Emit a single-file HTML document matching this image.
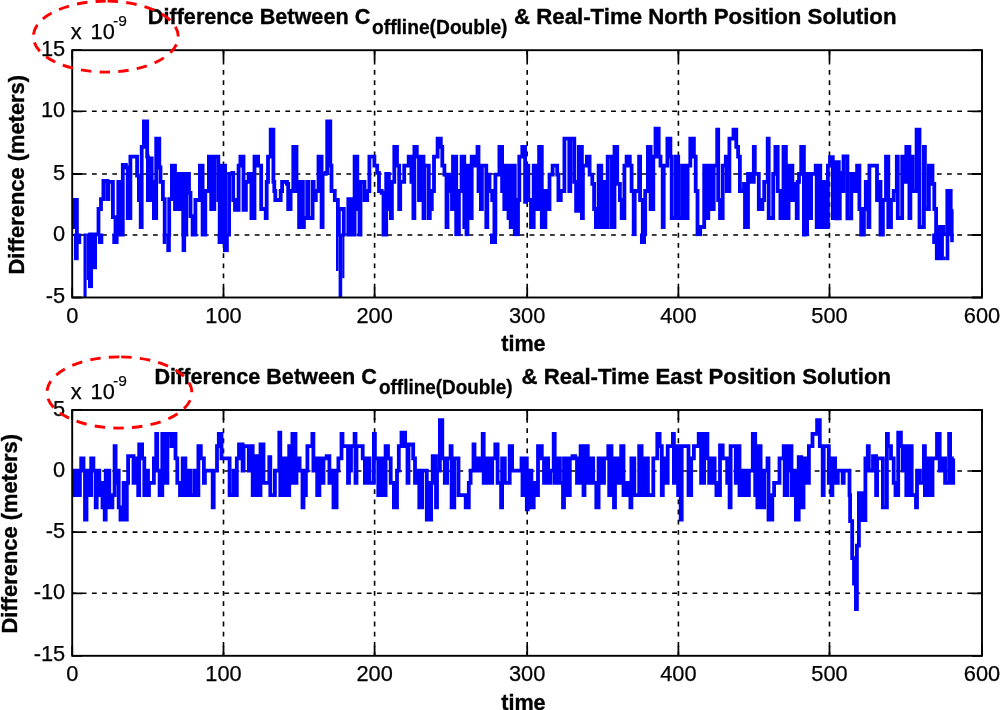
<!DOCTYPE html>
<html><head><meta charset="utf-8"><title>Difference plots</title>
<style>
html,body{margin:0;padding:0;background:#fff;}
svg{display:block;}
.tk{font-family:"Liberation Sans",Arial,sans-serif;font-size:21.8px;fill:#000;stroke:#000;stroke-width:0.25px;}
.ex{font-family:"Liberation Sans",Arial,sans-serif;font-size:15.5px;fill:#000;stroke:#000;stroke-width:0.2px;}
.lb{font-family:"Liberation Sans",Arial,sans-serif;font-size:21.6px;font-weight:bold;fill:#000;stroke:#000;stroke-width:0.35px;}
.tt{font-family:"Liberation Sans",Arial,sans-serif;font-size:21.6px;font-weight:bold;fill:#000;stroke:#000;stroke-width:0.35px;}
.ts{font-family:"Liberation Sans",Arial,sans-serif;font-size:20px;font-weight:bold;fill:#000;stroke:#000;stroke-width:0.3px;}
</style></head>
<body>
<svg width="1000" height="710" viewBox="0 0 1000 710">
<rect width="1000" height="710" fill="#fff"/>
<clipPath id="c1"><rect x="72.2" y="50.2" width="909.8" height="247.3"/></clipPath>
<g stroke="#000" stroke-width="1.6" stroke-dasharray="4.8 5.38" fill="none"><line x1="72.2" y1="111.3" x2="982.0" y2="111.3" stroke-dashoffset="0.65"/><line x1="72.2" y1="174.0" x2="982.0" y2="174.0" stroke-dashoffset="0.65"/><line x1="72.2" y1="235.0" x2="982.0" y2="235.0" stroke-dashoffset="0.65"/><line x1="223.5" y1="50.2" x2="223.5" y2="297.5" stroke-dashoffset="0.60"/><line x1="374.6" y1="50.2" x2="374.6" y2="297.5" stroke-dashoffset="0.60"/><line x1="527.2" y1="50.2" x2="527.2" y2="297.5" stroke-dashoffset="0.60"/><line x1="678.4" y1="50.2" x2="678.4" y2="297.5" stroke-dashoffset="0.60"/><line x1="829.5" y1="50.2" x2="829.5" y2="297.5" stroke-dashoffset="0.60"/></g>
<path d="M72.2,50.2h10.0M982.0,50.2h-10.0M72.2,111.3h10.0M982.0,111.3h-10.0M72.2,174.0h10.0M982.0,174.0h-10.0M72.2,235.0h10.0M982.0,235.0h-10.0M72.2,297.5h10.0M982.0,297.5h-10.0M72.2,297.5v-10.0M72.2,50.2v10.0M223.5,297.5v-10.0M223.5,50.2v10.0M374.6,297.5v-10.0M374.6,50.2v10.0M527.2,297.5v-10.0M527.2,50.2v10.0M678.4,297.5v-10.0M678.4,50.2v10.0M829.5,297.5v-10.0M829.5,50.2v10.0M982.0,297.5v-10.0M982.0,50.2v10.0" stroke="#000" stroke-width="1.8" fill="none"/>
<clipPath id="c1a"><rect x="72.2" y="50" width="910" height="186.5"/></clipPath><polyline clip-path="url(#c1a)" points="72.2,227.0 74.0,227.0 74.0,200.0 76.9,200.0 76.9,252.3 90.2,252.3 90.2,234.3 98.5,234.3 98.5,209.0 101.0,209.0 101.0,199.1 103.4,199.1 103.4,181.0 107.4,181.0 107.4,199.1 108.4,199.1 108.4,181.9 112.9,181.9 112.9,217.1 115.5,217.1 115.5,236.1 118.3,236.1 118.3,181.9 121.8,181.9 121.8,236.1 122.8,236.1 122.8,164.8 125.9,164.8 125.9,167.5 127.7,167.5 127.7,218.0 130.4,218.0 130.4,156.7 135.8,156.7 137.1,156.7 137.1,175.6 138.9,175.6 138.9,200.0 140.7,200.0 140.7,227.0 141.7,227.0 141.7,146.8 143.9,146.8 143.9,121.5 147.2,121.5 147.2,156.7 147.9,156.7 147.9,200.0 150.7,200.0 150.7,158.5 151.7,158.5 151.7,181.9 153.9,181.9 153.9,218.0 156.2,218.0 156.2,138.7 159.3,138.7 159.3,167.5 160.5,167.5 160.5,181.9 162.9,181.9 162.9,199.1 164.7,199.1 164.7,252.3 169.2,252.3 169.2,199.1 171.9,199.1 171.9,165.7 175.0,165.7 175.0,209.0 178.1,209.0 178.1,173.8 179.1,173.8 179.1,209.0 182.2,209.0 182.2,173.8 183.2,173.8 183.2,236.1 186.3,236.1 186.3,173.8 189.0,173.8 189.0,192.8 190.5,192.8 190.5,216.2 192.6,216.2 192.6,236.1 195.4,236.1 195.4,200.0 199.9,200.0 199.9,165.7 202.6,165.7 202.6,236.1 205.3,236.1 205.3,191.0 208.9,191.0 208.9,156.7 211.2,156.7 211.2,209.0 214.3,209.0 214.3,156.7 218.3,156.7 218.3,200.0 219.7,200.0 219.7,252.3 222.0,252.3 222.0,165.7 225.1,165.7 225.1,252.3 229.1,252.3 229.1,173.8 232.3,173.8 232.3,172.9 233.2,172.9 233.2,200.0 235.0,200.0 235.0,209.9 238.6,209.9 238.6,165.7 240.4,165.7 240.4,156.7 243.5,156.7 243.5,209.9 245.9,209.9 245.9,181.9 248.6,181.9 248.6,173.8 250.0,173.8 251.4,173.8 251.4,218.0 254.5,218.0 254.5,156.7 258.1,156.7 258.1,165.7 261.2,165.7 261.2,209.0 265.7,209.0 265.7,218.0 266.7,218.0 266.7,181.9 268.0,181.9 268.0,156.7 270.7,156.7 270.7,129.6 273.4,129.6 273.4,181.9 274.3,181.9 274.3,191.0 275.3,191.0 275.3,200.0 280.7,200.0 280.7,191.0 282.1,191.0 282.1,181.9 287.0,181.9 287.0,183.8 288.2,183.8 288.2,209.0 290.6,209.0 290.6,191.0 293.3,191.0 293.3,146.8 296.5,146.8 296.5,191.0 299.1,191.0 299.1,227.0 300.1,227.0 300.1,181.9 302.9,181.9 302.9,227.0 303.9,227.0 303.9,218.0 307.2,218.0 307.2,181.9 308.2,181.9 308.2,218.0 312.6,218.0 312.6,181.9 313.6,181.9 313.6,200.0 315.8,200.0 315.8,191.0 318.5,191.0 318.5,156.7 321.6,156.7 321.6,227.0 322.6,227.0 322.6,173.8 325.8,173.8 325.8,172.9 327.2,172.9 327.2,121.5 330.3,121.5 330.3,165.7 331.5,165.7 331.5,191.0 334.8,191.0 334.8,200.0 337.9,200.0 337.9,252.3 338.9,252.3 338.9,209.0 343.8,209.0 343.8,252.3 348.3,252.3 348.3,199.1 351.0,199.1 351.0,252.3 354.6,252.3 354.6,156.7 357.3,156.7 357.3,209.0 359.5,209.0 359.5,252.3 360.5,252.3 360.5,181.9 364.5,181.9 364.5,200.0 367.2,200.0 367.2,191.0 369.4,191.0 369.4,156.7 374.4,156.7 374.4,165.7 377.2,165.7 377.2,172.9 379.0,172.9 379.0,191.0 381.7,191.0 381.7,192.8 383.5,192.8 383.5,252.3 386.2,252.3 386.2,173.8 388.9,173.8 388.9,209.0 390.9,209.0 390.9,218.0 391.9,218.0 391.9,181.9 394.3,181.9 394.3,146.8 397.0,146.8 397.0,165.7 399.2,165.7 399.2,209.0 400.2,209.0 400.2,181.9 404.2,181.9 404.2,165.7 408.7,165.7 408.7,156.7 411.4,156.7 411.4,181.9 413.4,181.9 413.4,218.0 414.4,218.0 414.4,146.8 416.8,146.8 416.8,156.7 419.0,156.7 419.0,200.0 420.0,200.0 420.0,156.7 423.5,156.7 423.5,218.0 424.5,218.0 424.5,165.7 428.8,165.7 428.8,218.0 429.8,218.0 429.8,209.0 431.8,209.0 431.8,191.0 434.0,191.0 434.0,156.7 437.6,156.7 437.6,138.7 440.8,138.7 440.8,146.8 442.3,146.8 442.3,165.7 444.4,165.7 444.4,174.7 446.5,174.7 446.5,227.0 447.5,227.0 447.5,174.7 449.8,174.7 449.8,191.0 452.0,191.0 452.0,209.0 453.0,209.0 453.0,156.7 456.2,156.7 456.2,234.3 458.9,234.3 458.9,191.0 461.6,191.0 461.6,156.7 464.3,156.7 464.3,227.0 466.5,227.0 466.5,234.3 467.5,234.3 467.5,165.7 470.7,165.7 470.7,218.0 471.7,218.0 471.7,156.7 474.2,156.7 474.2,165.7 477.5,165.7 477.5,146.8 478.5,146.8 478.5,191.0 480.9,191.0 480.9,209.0 481.9,209.0 481.9,165.7 486.3,165.7 486.3,227.0 487.3,227.0 487.3,174.7 489.5,174.7 489.5,191.0 492.2,191.0 492.2,200.0 494.4,200.0 494.4,234.3 495.4,234.3 495.4,174.7 499.4,174.7 499.4,146.8 502.1,146.8 502.1,191.0 504.3,191.0 504.3,209.0 505.3,209.0 505.3,165.7 508.5,165.7 508.5,218.0 510.7,218.0 510.7,227.0 511.7,227.0 511.7,165.7 514.8,165.7 514.8,234.3 518.0,234.3 518.0,200.0 519.3,200.0 519.3,156.7 522.3,156.7 522.3,146.8 525.1,146.8 525.1,201.8 526.1,201.8 526.1,165.7 528.3,165.7 528.3,200.0 531.0,200.0 531.0,227.0 533.7,227.0 533.7,165.7 536.4,165.7 536.4,209.0 539.1,209.0 539.1,146.8 541.8,146.8 541.8,227.0 545.4,227.0 545.4,191.0 548.5,191.0 548.5,209.0 549.5,209.0 549.5,174.7 552.6,174.7 552.6,165.7 557.2,165.7 557.2,174.7 558.4,174.7 558.4,200.0 560.8,200.0 560.8,191.0 564.4,191.0 564.4,138.7 569.3,138.7 569.3,191.0 570.3,191.0 570.3,138.7 574.3,138.7 574.3,181.9 576.1,181.9 576.1,210.8 578.8,210.8 578.8,146.8 581.9,146.8 581.9,218.0 582.9,218.0 582.9,165.7 586.9,165.7 586.9,156.7 589.6,156.7 589.6,174.7 592.3,174.7 592.3,183.8 594.1,183.8 594.1,209.0 595.9,209.0 595.9,227.0 598.6,227.0 598.6,165.7 601.3,165.7 601.3,227.0 604.4,227.0 604.4,181.9 605.4,181.9 605.4,227.0 607.7,227.0 607.7,156.7 610.0,156.7 611.8,156.7 611.8,227.0 614.5,227.0 614.5,146.8 617.2,146.8 617.2,183.8 619.9,183.8 619.9,200.0 621.7,200.0 621.7,218.0 624.4,218.0 624.4,165.7 626.6,165.7 626.6,156.7 629.8,156.7 629.8,165.7 631.6,165.7 631.6,191.0 633.7,191.0 633.7,234.3 634.7,234.3 634.7,191.0 639.1,191.0 639.1,156.7 640.1,156.7 640.1,200.0 642.8,200.0 642.8,234.3 645.2,234.3 645.2,191.0 647.9,191.0 647.9,146.8 650.6,146.8 650.6,209.0 653.3,209.0 653.3,156.7 655.5,156.7 655.5,128.7 658.7,128.7 658.7,156.7 660.5,156.7 660.5,165.7 662.7,165.7 662.7,227.0 663.7,227.0 663.7,165.7 667.4,165.7 667.4,138.7 670.4,138.7 670.4,156.7 671.7,156.7 671.7,218.0 675.8,218.0 675.8,156.7 678.2,156.7 678.2,218.0 682.1,218.0 682.1,165.7 684.8,165.7 684.8,218.0 687.6,218.0 687.6,165.7 690.3,165.7 690.3,138.7 693.9,138.7 693.9,156.7 695.7,156.7 695.7,191.0 697.5,191.0 697.5,234.3 700.2,234.3 700.2,227.0 704.2,227.0 704.2,165.7 705.2,165.7 705.2,218.0 708.3,218.0 708.3,165.7 711.0,165.7 711.0,209.0 713.7,209.0 713.7,165.7 717.2,165.7 717.2,129.6 718.2,129.6 718.2,200.0 720.0,200.0 720.0,218.0 722.7,218.0 722.7,165.7 725.8,165.7 725.8,156.7 726.8,156.7 726.8,191.0 729.4,191.0 729.4,138.7 733.5,138.7 733.5,129.6 736.3,129.6 736.3,146.8 738.1,146.8 738.1,156.7 739.9,156.7 739.9,191.0 744.0,191.0 744.0,183.8 745.0,183.8 745.0,227.0 748.0,227.0 748.0,173.8 750.7,173.8 750.7,181.9 753.8,181.9 753.8,146.8 754.8,146.8 754.8,173.8 758.8,173.8 758.8,209.0 762.4,209.0 762.4,200.0 764.2,200.0 764.2,181.9 767.7,181.9 767.7,138.7 768.7,138.7 768.7,218.0 773.2,218.0 773.2,173.8 775.4,173.8 775.4,146.8 777.7,146.8 777.7,191.0 780.4,191.0 780.4,218.0 783.5,218.0 783.5,146.8 785.9,146.8 785.9,218.0 788.6,218.0 788.6,165.7 790.0,165.7 792.4,165.7 792.4,200.0 793.4,200.0 793.4,183.8 796.7,183.8 796.7,218.0 797.7,218.0 797.7,181.9 799.0,181.9 799.0,173.8 801.2,173.8 801.2,146.8 803.9,146.8 803.9,252.3 805.1,252.3 805.1,191.0 806.1,191.0 806.1,234.3 807.1,234.3 807.1,173.8 810.1,173.8 810.1,218.0 811.1,218.0 811.1,173.8 815.7,173.8 815.7,165.7 816.7,165.7 816.7,227.0 819.1,227.0 819.1,165.7 820.3,165.7 820.3,209.0 821.8,209.0 821.8,181.9 822.8,181.9 822.8,227.0 825.6,227.0 825.6,181.9 826.9,181.9 826.9,227.0 827.9,227.0 827.9,165.7 830.0,165.7 830.0,157.1 832.8,157.1 832.8,218.0 833.8,218.0 833.8,162.1 836.1,162.1 836.1,218.4 837.4,218.4 837.4,162.1 838.8,162.1 838.8,218.4 839.8,218.4 839.8,172.9 842.5,172.9 842.5,191.0 843.5,191.0 843.5,156.3 847.4,156.3 847.4,218.4 851.3,218.4 851.3,173.8 854.0,173.8 854.0,191.0 857.1,191.0 857.1,165.7 859.4,165.7 859.4,209.0 861.2,209.0 861.2,252.3 863.9,252.3 863.9,209.0 865.8,209.0 865.8,181.9 868.4,181.9 868.4,227.0 869.4,227.0 869.4,165.7 873.9,165.7 877.0,165.7 877.0,200.0 878.0,200.0 878.0,181.9 880.5,181.9 880.5,252.3 882.9,252.3 882.9,200.0 886.0,200.0 886.0,156.7 888.3,156.7 888.3,227.0 891.0,227.0 891.0,200.0 893.7,200.0 893.7,191.0 896.8,191.0 896.8,156.7 897.8,156.7 897.8,218.0 902.2,218.0 902.2,156.7 903.2,156.7 903.2,181.9 906.3,181.9 906.3,146.8 909.4,146.8 909.4,218.0 910.4,218.0 910.4,156.7 912.6,156.7 912.6,191.0 916.6,191.0 916.6,129.6 919.5,129.6 919.5,227.0 923.9,227.0 923.9,146.8 924.9,146.8 924.9,209.0 928.9,209.0 928.9,165.7 932.5,165.7 932.5,183.8 934.3,183.8 934.3,209.0 936.1,209.0 936.1,252.3 939.7,252.3 939.7,227.0 943.3,227.0 943.3,234.3 947.3,234.3 947.3,191.0 950.7,191.0 950.7,234.3 951.7,234.3 951.7,210.8 953.4,210.8" fill="none" stroke="#0000ff" stroke-width="3.8" stroke-linejoin="miter" stroke-miterlimit="3"/><g fill="#0000ff" clip-path="url(#c1)"><rect x="74.0" y="233.5" width="4.7" height="26.7"/><rect x="78.1" y="233.5" width="3.1" height="10.5"/><rect x="83.5" y="233.5" width="3.1" height="64.5"/><rect x="86.6" y="233.5" width="2.3" height="46.5"/><rect x="88.0" y="233.5" width="5.0" height="54.6"/><rect x="93.0" y="233.5" width="4.0" height="35.7"/><rect x="97.9" y="233.5" width="5.4" height="10.5"/><rect x="112.3" y="233.5" width="6.3" height="10.5"/><rect x="162.7" y="233.5" width="3.6" height="10.5"/><rect x="166.3" y="233.5" width="4.5" height="18.6"/><rect x="181.6" y="233.5" width="4.5" height="18.6"/><rect x="217.6" y="233.5" width="5.4" height="10.5"/><rect x="223.0" y="233.5" width="5.8" height="18.6"/><rect x="336.0" y="233.5" width="2.5" height="37.5"/><rect x="338.6" y="233.5" width="3.6" height="64.5"/><rect x="342.2" y="233.5" width="2.2" height="44.7"/><rect x="343.6" y="233.5" width="10.8" height="1.5"/><rect x="357.1" y="233.5" width="3.6" height="1.9"/><rect x="382.3" y="233.5" width="2.7" height="1.9"/><rect x="932.2" y="233.5" width="3.6" height="10.5"/><rect x="934.9" y="233.5" width="9.0" height="26.7"/><rect x="945.7" y="233.5" width="3.6" height="26.7"/><rect x="943.9" y="256.6" width="1.8" height="3.6"/><rect x="950.2" y="233.5" width="3.6" height="8.7"/><rect x="490.0" y="233.5" width="7.0" height="10.5"/><rect x="640.0" y="233.5" width="6.0" height="10.5"/></g>
<rect x="72.2" y="50.2" width="909.8" height="247.3" fill="none" stroke="#000" stroke-width="1.9"/>
<text x="65.2" y="55.8" text-anchor="end" class="tk">15</text>
<text x="65.2" y="116.9" text-anchor="end" class="tk">10</text>
<text x="65.2" y="179.6" text-anchor="end" class="tk">5</text>
<text x="65.2" y="240.6" text-anchor="end" class="tk">0</text>
<text x="65.2" y="303.1" text-anchor="end" class="tk">-5</text>
<text x="72.2" y="322.7" text-anchor="middle" class="tk">0</text>
<text x="223.5" y="322.7" text-anchor="middle" class="tk">100</text>
<text x="374.6" y="322.7" text-anchor="middle" class="tk">200</text>
<text x="527.2" y="322.7" text-anchor="middle" class="tk">300</text>
<text x="678.4" y="322.7" text-anchor="middle" class="tk">400</text>
<text x="829.5" y="322.7" text-anchor="middle" class="tk">500</text>
<text x="982.0" y="322.7" text-anchor="middle" class="tk">600</text>
<text x="523.4" y="351.2" text-anchor="middle" class="lb">time</text>
<text transform="translate(23.6,174.7) rotate(-90)" text-anchor="middle" class="lb" textLength="199.5" lengthAdjust="spacingAndGlyphs">Difference (meters)</text>
<clipPath id="c2"><rect x="72.2" y="410.0" width="909.8" height="245.79999999999995"/></clipPath>
<g stroke="#000" stroke-width="1.6" stroke-dasharray="4.8 5.38" fill="none"><line x1="72.2" y1="471.0" x2="982.0" y2="471.0" stroke-dashoffset="0.65"/><line x1="72.2" y1="532.1" x2="982.0" y2="532.1" stroke-dashoffset="0.65"/><line x1="72.2" y1="593.3" x2="982.0" y2="593.3" stroke-dashoffset="0.65"/><line x1="223.5" y1="410.0" x2="223.5" y2="655.8" stroke-dashoffset="2.20"/><line x1="374.6" y1="410.0" x2="374.6" y2="655.8" stroke-dashoffset="2.20"/><line x1="527.2" y1="410.0" x2="527.2" y2="655.8" stroke-dashoffset="2.20"/><line x1="678.4" y1="410.0" x2="678.4" y2="655.8" stroke-dashoffset="2.20"/><line x1="829.5" y1="410.0" x2="829.5" y2="655.8" stroke-dashoffset="2.20"/></g>
<path d="M72.2,410.0h10.0M982.0,410.0h-10.0M72.2,471.0h10.0M982.0,471.0h-10.0M72.2,532.1h10.0M982.0,532.1h-10.0M72.2,593.3h10.0M982.0,593.3h-10.0M72.2,655.8h10.0M982.0,655.8h-10.0M72.2,655.8v-10.0M72.2,410.0v10.0M223.5,655.8v-10.0M223.5,410.0v10.0M374.6,655.8v-10.0M374.6,410.0v10.0M527.2,655.8v-10.0M527.2,410.0v10.0M678.4,655.8v-10.0M678.4,410.0v10.0M829.5,655.8v-10.0M829.5,410.0v10.0M982.0,655.8v-10.0M982.0,410.0v10.0" stroke="#000" stroke-width="1.8" fill="none"/>
<polyline clip-path="url(#c2)" points="71.8,470.6 72.2,470.6 72.2,495.1 74.5,495.1 74.5,470.6 77.2,470.6 77.2,495.1 79.9,495.1 79.9,470.6 81.2,470.6 81.2,458.4 83.5,458.4 83.5,470.6 85.0,470.6 85.0,519.7 86.5,519.7 86.5,470.6 87.5,470.6 87.5,482.9 90.2,482.9 90.2,495.1 91.2,495.1 91.2,458.4 93.4,458.4 93.4,470.6 95.7,470.6 95.7,507.4 96.7,507.4 96.7,470.6 99.3,470.6 99.3,495.1 100.3,495.1 100.3,482.9 102.5,482.9 102.5,507.4 104.7,507.4 104.7,519.7 105.7,519.7 105.7,470.6 107.9,470.6 109.3,470.6 109.3,507.4 112.4,507.4 112.4,495.1 114.6,495.1 114.6,446.1 115.6,446.1 115.6,482.9 117.7,482.9 117.7,470.6 118.7,470.6 118.7,507.4 120.5,507.4 120.5,519.7 123.6,519.7 123.6,482.9 124.6,482.9 124.6,519.7 126.8,519.7 126.8,482.9 128.1,482.9 128.1,456.2 131.3,456.2 133.5,456.2 133.5,482.9 134.5,482.9 134.5,458.4 138.2,458.4 138.2,495.1 139.2,495.1 139.2,444.5 142.1,444.5 142.1,458.4 144.3,458.4 144.3,495.1 145.3,495.1 145.3,470.6 148.0,470.6 148.0,495.1 149.0,495.1 149.0,482.9 152.1,482.9 153.9,482.9 153.9,458.4 156.2,458.4 156.2,433.8 157.2,433.8 157.2,470.6 159.6,470.6 159.6,495.1 162.3,495.1 162.3,433.8 164.7,433.8 164.7,482.9 167.4,482.9 167.4,433.8 171.4,433.8 171.4,446.1 172.4,446.1 172.4,433.8 175.5,433.8 175.5,458.4 177.3,458.4 177.3,482.9 180.0,482.9 180.0,495.1 182.7,495.1 182.7,458.4 185.4,458.4 185.4,495.1 188.1,495.1 188.1,470.6 190.8,470.6 190.8,495.1 194.9,495.1 194.9,470.6 195.9,470.6 195.9,495.1 198.4,495.1 198.4,446.1 200.8,446.1 200.8,458.4 203.9,458.4 203.9,482.9 204.9,482.9 204.9,470.6 209.8,470.6 212.7,470.6 212.7,507.4 213.7,507.4 213.7,470.6 217.0,470.6 217.0,446.1 218.8,446.1 218.8,433.8 221.5,433.8 221.5,458.4 226.9,458.4 229.6,458.4 229.6,495.1 233.6,495.1 233.6,470.6 234.6,470.6 234.6,495.1 236.8,495.1 236.8,458.4 239.0,458.4 239.0,444.5 242.6,444.5 242.6,470.6 243.6,470.6 243.6,446.1 248.8,446.1 248.8,470.6 249.8,470.6 249.8,446.1 251.4,446.1 252.7,446.1 252.7,495.1 255.4,495.1 255.4,456.2 258.1,456.2 258.1,495.1 260.5,495.1 260.5,444.5 263.5,444.5 263.5,482.9 265.3,482.9 269.3,482.9 269.3,457.1 270.3,457.1 270.3,495.1 274.9,495.1 274.9,470.6 279.3,470.6 279.3,432.7 280.3,432.7 280.3,495.1 283.4,495.1 283.4,458.4 286.1,458.4 286.1,495.1 289.2,495.1 289.2,446.1 290.2,446.1 290.2,482.9 292.4,482.9 292.4,433.8 295.5,433.8 295.5,482.9 296.5,482.9 296.5,458.4 299.6,458.4 299.6,470.6 302.5,470.6 302.5,507.4 303.5,507.4 303.5,495.1 305.9,495.1 305.9,470.6 307.4,470.6 307.4,446.1 312.4,446.1 312.4,433.8 313.4,433.8 313.4,470.6 316.2,470.6 316.2,458.4 317.2,458.4 317.2,495.1 319.4,495.1 319.4,458.4 322.5,458.4 322.5,482.9 323.5,482.9 323.5,458.4 326.7,458.4 326.7,456.2 329.4,456.2 329.4,482.9 332.5,482.9 332.5,470.6 333.5,470.6 333.5,507.4 336.6,507.4 336.6,470.6 338.4,470.6 338.4,458.4 341.5,458.4 341.5,433.8 342.5,433.8 342.5,446.1 345.6,446.1 348.0,446.1 348.0,482.9 349.0,482.9 349.0,470.6 351.0,470.6 351.0,446.1 354.6,446.1 354.6,433.8 355.5,433.8 355.5,482.9 356.5,482.9 356.5,446.1 360.0,446.1 362.7,446.1 362.7,458.4 364.9,458.4 364.9,482.9 365.9,482.9 365.9,470.6 368.5,470.6 368.5,458.4 369.5,458.4 369.5,482.9 373.9,482.9 373.9,433.8 374.9,433.8 374.9,458.4 378.3,458.4 378.3,495.1 379.3,495.1 379.3,458.4 382.6,458.4 382.6,495.1 385.6,495.1 385.6,446.1 388.0,446.1 388.0,458.4 390.7,458.4 390.7,482.9 393.9,482.9 393.9,507.4 397.0,507.4 397.0,470.6 398.8,470.6 398.8,446.1 401.5,446.1 401.5,432.7 405.1,432.7 405.1,446.1 407.5,446.1 407.5,482.9 408.5,482.9 408.5,444.5 413.2,444.5 413.2,458.4 415.0,458.4 415.0,482.9 418.3,482.9 418.3,470.6 419.3,470.6 419.3,507.4 422.2,507.4 422.2,470.6 424.0,470.6 426.8,470.6 426.8,519.7 429.2,519.7 429.2,482.9 430.1,482.9 430.1,519.7 431.1,519.7 431.1,482.9 432.7,482.9 432.7,456.2 436.0,456.2 436.0,507.4 437.0,507.4 437.0,470.6 439.9,470.6 439.9,420.1 442.3,420.1 442.3,458.4 444.8,458.4 444.8,482.9 447.1,482.9 447.1,458.4 450.6,458.4 450.6,446.1 451.6,446.1 451.6,507.4 454.3,507.4 454.3,458.4 457.1,458.4 458.5,458.4 458.5,495.1 462.5,495.1 465.7,495.1 465.7,507.4 468.8,507.4 468.8,482.9 470.6,482.9 470.6,470.6 473.5,470.6 473.5,444.5 474.5,444.5 474.5,470.6 478.2,470.6 478.2,458.4 479.2,458.4 479.2,470.6 482.7,470.6 482.7,433.8 483.7,433.8 483.7,482.9 486.8,482.9 486.8,458.4 489.5,458.4 489.5,482.9 492.2,482.9 492.2,458.4 495.3,458.4 495.3,444.5 497.6,444.5 497.6,482.9 501.1,482.9 501.1,507.4 502.1,507.4 502.1,458.4 504.8,458.4 504.8,482.9 506.7,482.9 509.7,482.9 509.7,446.1 512.1,446.1 512.1,470.6 520.2,470.6 521.5,470.6 521.5,458.4 522.5,458.4 522.5,495.1 525.4,495.1 525.4,458.4 526.8,458.4 526.8,509.4 527.8,509.4 527.8,470.6 531.4,470.6 531.4,507.4 533.7,507.4 533.7,482.9 537.0,482.9 537.0,495.1 538.0,495.1 538.0,446.1 541.8,446.1 541.8,458.4 544.0,458.4 544.0,482.9 545.0,482.9 545.0,458.4 548.1,458.4 548.1,482.9 550.5,482.9 550.5,470.6 553.7,470.6 553.7,433.8 554.7,433.8 554.7,482.9 557.2,482.9 557.2,458.4 559.9,458.4 559.9,482.9 563.0,482.9 563.0,507.4 564.0,507.4 564.0,458.4 567.1,458.4 567.1,495.1 569.8,495.1 569.8,458.4 572.5,458.4 572.5,456.2 575.2,456.2 575.2,458.4 577.0,458.4 577.0,482.9 580.6,482.9 580.6,446.1 583.5,446.1 583.5,495.1 584.5,495.1 584.5,446.1 587.8,446.1 587.8,482.9 590.5,482.9 590.5,458.4 593.2,458.4 593.2,482.9 596.3,482.9 596.3,507.4 598.6,507.4 598.6,458.4 601.3,458.4 601.3,482.9 604.0,482.9 604.0,458.4 608.3,458.4 608.3,446.1 609.2,446.1 609.2,495.1 610.5,495.1 610.5,446.1 611.5,446.1 611.5,495.1 614.0,495.1 614.0,507.4 615.0,507.4 615.0,458.4 618.1,458.4 618.1,482.9 621.2,482.9 621.2,446.1 623.5,446.1 623.5,495.1 626.6,495.1 626.6,482.9 627.6,482.9 627.6,495.1 630.4,495.1 630.4,507.4 631.4,507.4 631.4,458.4 634.3,458.4 634.3,495.1 639.2,495.1 639.2,446.1 641.6,446.1 641.6,495.1 645.2,495.1 645.2,458.4 647.9,458.4 647.9,495.1 650.6,495.1 653.3,495.1 653.3,458.4 657.3,458.4 657.3,433.8 659.6,433.8 659.6,446.1 661.8,446.1 661.8,495.1 662.8,495.1 662.8,458.4 665.0,458.4 665.0,482.9 667.7,482.9 667.7,446.1 672.9,446.1 672.9,433.8 673.9,433.8 673.9,482.9 677.1,482.9 677.1,446.1 678.1,446.1 678.1,495.1 680.7,495.1 680.7,519.7 681.7,519.7 681.7,446.1 686.7,446.1 688.5,446.1 688.5,495.1 691.2,495.1 691.2,458.4 693.9,458.4 693.9,446.1 698.7,446.1 698.7,433.8 701.1,433.8 701.1,482.9 704.1,482.9 704.1,433.8 707.4,433.8 707.4,458.4 709.2,458.4 709.2,482.9 711.9,482.9 711.9,458.4 714.6,458.4 714.6,482.9 716.4,482.9 716.4,495.1 720.0,495.1 720.0,445.4 722.7,445.4 722.7,458.4 725.4,458.4 727.2,458.4 727.2,482.9 729.6,482.9 729.6,507.4 730.6,507.4 730.6,446.1 735.8,446.1 735.8,482.9 736.8,482.9 736.8,446.1 739.5,446.1 739.5,495.1 742.6,495.1 742.6,470.6 745.3,470.6 745.3,495.1 748.9,495.1 748.9,470.6 752.8,470.6 752.8,433.8 755.2,433.8 755.2,495.1 757.4,495.1 757.4,507.4 758.4,507.4 758.4,446.1 760.6,446.1 760.6,507.4 764.2,507.4 764.2,470.6 767.5,470.6 767.5,458.4 768.5,458.4 768.5,519.7 772.3,519.7 772.3,495.1 774.1,495.1 774.1,482.9 776.8,482.9 779.5,482.9 779.5,458.4 783.7,458.4 783.7,446.1 784.7,446.1 784.7,495.1 787.1,495.1 787.1,446.1 789.2,446.1 789.2,470.6 790.5,470.6 790.5,446.1 791.5,446.1 791.5,495.1 794.9,495.1 794.9,470.6 795.9,470.6 795.9,519.7 798.7,519.7 798.7,457.1 801.2,457.1 801.2,507.4 803.5,507.4 803.5,458.4 806.2,458.4 806.2,482.9 808.9,482.9 808.9,446.1 812.5,446.1 812.5,433.8 817.1,433.8 817.1,420.1 819.8,420.1 819.8,446.1 822.7,446.1 822.7,495.1 823.7,495.1 823.7,446.1 827.0,446.1 828.8,446.1 828.8,482.9 831.4,482.9 831.4,495.1 832.4,495.1 832.4,458.4 835.1,458.4 835.1,482.9 837.8,482.9 837.8,470.6 842.7,470.6 842.7,482.9 843.7,482.9 843.7,470.6 847.7,470.6 849.5,470.6 849.5,495.1 850.1,495.1 850.1,521.1 852.2,521.1 852.2,558.1 854.0,558.1 854.0,583.7 855.9,583.7 855.9,609.1 856.9,609.1 856.9,545.6 858.9,545.6 858.9,493.2 862.1,493.2 862.1,520.2 865.4,520.2 865.4,458.4 867.8,458.4 867.8,446.1 868.8,446.1 868.8,470.6 873.0,470.6 873.0,456.2 876.1,456.2 876.1,495.1 877.1,495.1 877.1,458.4 880.2,458.4 882.9,458.4 882.9,507.4 886.9,507.4 886.9,433.8 887.9,433.8 887.9,446.1 891.0,446.1 891.0,458.4 893.7,458.4 893.7,482.9 895.5,482.9 895.5,495.1 898.2,495.1 898.2,432.7 900.9,432.7 900.9,446.1 902.7,446.1 902.7,470.6 903.7,470.6 903.7,446.1 906.3,446.1 906.3,495.1 909.0,495.1 909.0,446.1 911.7,446.1 911.7,495.1 916.0,495.1 916.0,507.4 917.0,507.4 917.0,470.6 919.9,470.6 919.9,482.9 923.9,482.9 923.9,446.1 924.9,446.1 924.9,495.1 927.1,495.1 927.1,458.4 929.8,458.4 929.8,495.1 932.5,495.1 932.5,458.4 937.0,458.4 937.0,433.8 939.7,433.8 939.7,470.6 942.4,470.6 942.4,458.4 945.1,458.4 945.1,482.9 949.1,482.9 949.1,433.8 950.1,433.8 950.1,482.9 953.2,482.9 953.2,458.4 953.8,458.4" fill="none" stroke="#0000ff" stroke-width="3.8" stroke-linejoin="miter" stroke-miterlimit="3"/>
<rect x="72.2" y="410.0" width="909.8" height="245.79999999999995" fill="none" stroke="#000" stroke-width="1.9"/>
<text x="65.2" y="415.6" text-anchor="end" class="tk">5</text>
<text x="65.2" y="476.6" text-anchor="end" class="tk">0</text>
<text x="65.2" y="537.7" text-anchor="end" class="tk">-5</text>
<text x="65.2" y="598.9" text-anchor="end" class="tk">-10</text>
<text x="65.2" y="661.4" text-anchor="end" class="tk">-15</text>
<text x="72.2" y="681.0" text-anchor="middle" class="tk">0</text>
<text x="223.5" y="681.0" text-anchor="middle" class="tk">100</text>
<text x="374.6" y="681.0" text-anchor="middle" class="tk">200</text>
<text x="527.2" y="681.0" text-anchor="middle" class="tk">300</text>
<text x="678.4" y="681.0" text-anchor="middle" class="tk">400</text>
<text x="829.5" y="681.0" text-anchor="middle" class="tk">500</text>
<text x="982.0" y="681.0" text-anchor="middle" class="tk">600</text>
<text x="523.4" y="709.5" text-anchor="middle" class="lb">time</text>
<text transform="translate(16.8,533.7) rotate(-90)" text-anchor="middle" class="lb" textLength="199.5" lengthAdjust="spacingAndGlyphs">Difference (meters)</text>
<text x="147.8" y="23.6" class="tt" textLength="222.5" lengthAdjust="spacingAndGlyphs">Difference Between C</text><text x="372" y="33.6" class="ts" textLength="135.5" lengthAdjust="spacingAndGlyphs">offline(Double)</text><text x="514" y="23.6" class="tt" textLength="382.5" lengthAdjust="spacingAndGlyphs">&amp; Real-Time North Position Solution</text>
<text x="154.4" y="383.6" class="tt" textLength="222.5" lengthAdjust="spacingAndGlyphs">Difference Between C</text><text x="379" y="393.6" class="ts" textLength="133.5" lengthAdjust="spacingAndGlyphs">offline(Double)</text><text x="521.5" y="383.6" class="tt" textLength="369.5" lengthAdjust="spacingAndGlyphs">&amp; Real-Time East Position Solution</text>
<text x="70.8" y="38.6" class="tk">x</text><text x="90.6" y="38.6" class="tk">10</text><text x="113.0" y="25.6" class="ex">-9</text>
<text x="70.8" y="398.6" class="tk">x</text><text x="90.6" y="398.6" class="tk">10</text><text x="113.0" y="385.6" class="ex">-9</text>
<g fill="none" stroke="#ff0000" stroke-width="2.9" stroke-dasharray="10.5 8.2" stroke-dashoffset="-1.8"><path d="M105.8,1.10 A72.5,35.5 0 0,1 105.8,72.10 A72.5,35.5 0 0,1 105.8,1.10"/><path d="M119.4,356.90 A72.5,35.6 0 0,1 119.4,428.10 A72.5,35.6 0 0,1 119.4,356.90"/></g>
</svg>
</body></html>
